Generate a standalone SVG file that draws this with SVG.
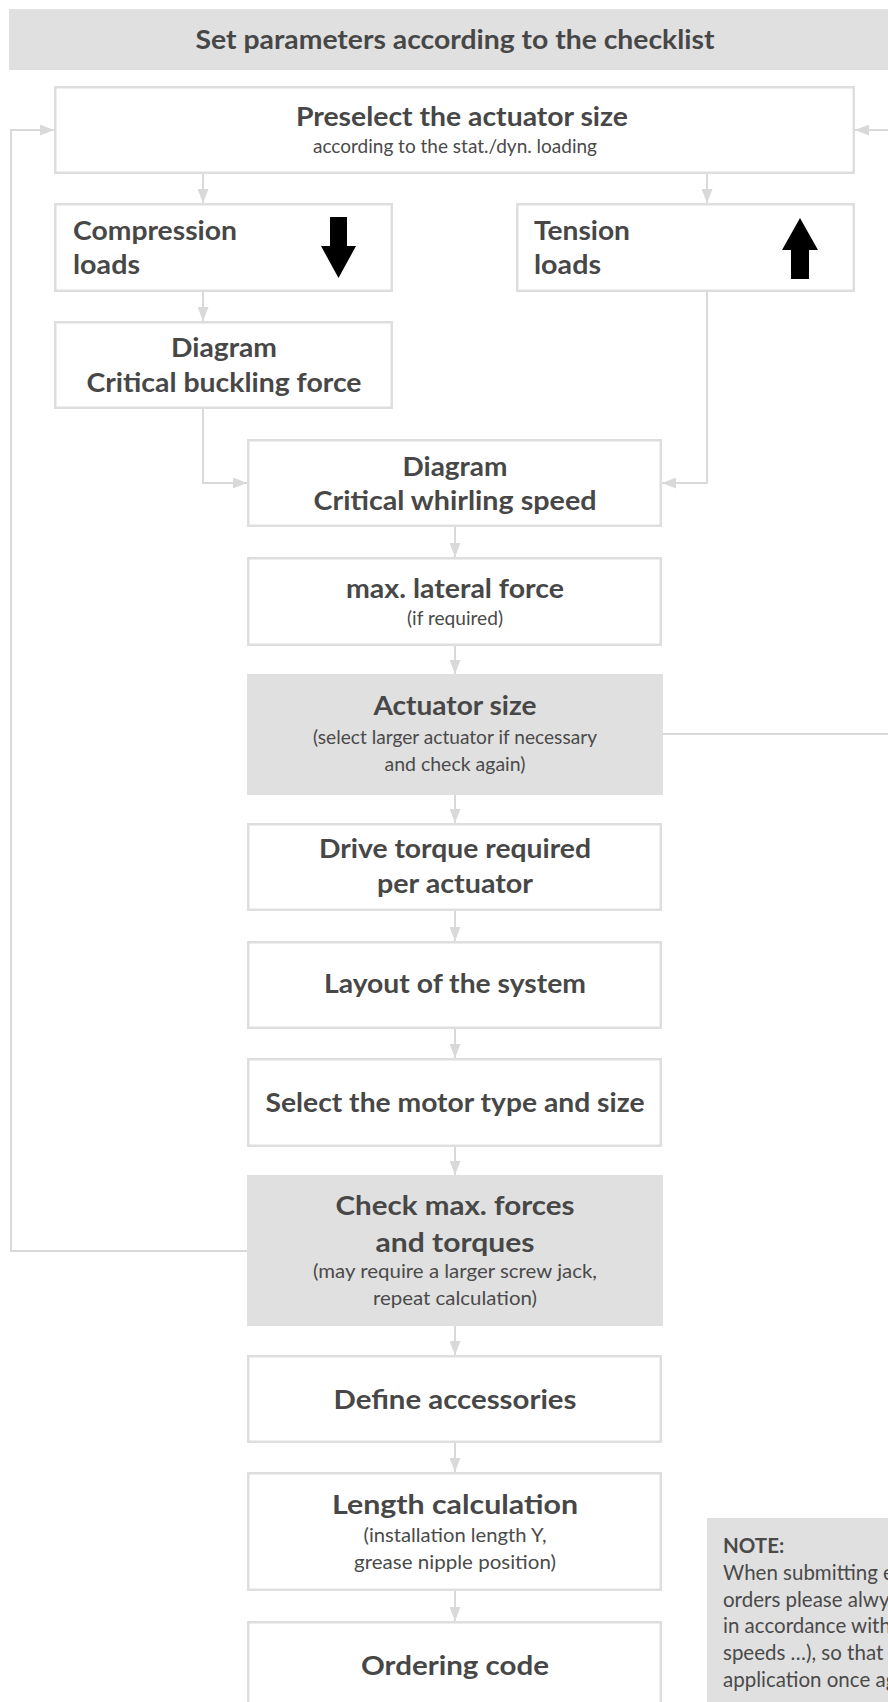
<svg xmlns="http://www.w3.org/2000/svg" width="888" height="1702" viewBox="0 0 888 1702">
<defs>
<style>
.box{fill:#ffffff;stroke:#dedede;stroke-width:2.5}
.gbox{fill:#e0e0e0;stroke:none}
.t{font-family:Lato,"Liberation Sans",sans-serif;font-weight:700;font-size:26.5px;fill:#474747}
.s{font-family:Lato,"Liberation Sans",sans-serif;font-weight:400;font-size:20px;fill:#4a4a4a}
.c{text-anchor:middle}
.n{font-family:Lato,"Liberation Sans",sans-serif;font-size:20.5px;fill:#4a4a4a}
.con{fill:none;stroke:#d9d9d9;stroke-width:2}
.ar{marker-end:url(#ah)}
</style>
<marker id="ah" markerUnits="userSpaceOnUse" markerWidth="14" markerHeight="11" refX="14" refY="5.5" orient="auto">
<path d="M0,0 L14,5.5 L0,11 Z" fill="#d9d9d9"/>
</marker>
</defs>
<rect width="888" height="1702" fill="#ffffff"/>

<g id="header">
<rect class="gbox" x="9" y="9" width="900" height="61"/>
<text class="t c" x="455" y="49" textLength="519" lengthAdjust="spacingAndGlyphs">Set parameters according to the checklist</text>
</g>

<g id="connectors">
<path class="con ar" d="M203,174 V203"/>
<path class="con ar" d="M707,174 V203"/>
<path class="con ar" d="M203,292 V321"/>
<path class="con ar" d="M203,409 V483 H247"/>
<path class="con ar" d="M707,292 V483 H662"/>
<path class="con ar" d="M455,527 V557"/>
<path class="con ar" d="M455,646 V674"/>
<path class="con ar" d="M455,795 V823"/>
<path class="con ar" d="M455,911 V941"/>
<path class="con ar" d="M455,1029 V1058"/>
<path class="con ar" d="M455,1147 V1175"/>
<path class="con ar" d="M455,1326 V1355"/>
<path class="con ar" d="M455,1443 V1472"/>
<path class="con ar" d="M455,1591 V1621"/>
<path class="con ar" d="M247,1251 H11 V130 H54"/>
<path class="con ar" d="M663,734 H910 V130 H855"/>
</g>

<g id="preselect">
<rect class="box" x="55.25" y="87.25" width="798.5" height="85.5"/>
<text class="t c" x="462" y="126" textLength="332" lengthAdjust="spacingAndGlyphs">Preselect the actuator size</text>
<text class="s c" x="455" y="153" textLength="284" lengthAdjust="spacingAndGlyphs">according to the stat./dyn. loading</text>
</g>

<g id="compression">
<rect class="box" x="55.25" y="204.25" width="336.5" height="86.5"/>
<text class="t" x="73" y="240" textLength="164" lengthAdjust="spacingAndGlyphs">Compression</text>
<text class="t" x="73" y="274" textLength="67" lengthAdjust="spacingAndGlyphs">loads</text>
<path d="M330,217 H347 V246 H356 L338.5,278 L321,246 H330 Z" fill="#000000"/>
</g>

<g id="tension">
<rect class="box" x="517.25" y="204.25" width="336.5" height="86.5"/>
<text class="t" x="534" y="240" textLength="96" lengthAdjust="spacingAndGlyphs">Tension</text>
<text class="t" x="534" y="274" textLength="67" lengthAdjust="spacingAndGlyphs">loads</text>
<path d="M800,218 L818,250 H809 V279 H791 V250 H782 Z" fill="#000000"/>
</g>

<g id="buckling">
<rect class="box" x="55.25" y="322.25" width="336.5" height="85.5"/>
<text class="t c" x="224" y="357" textLength="106" lengthAdjust="spacingAndGlyphs">Diagram</text>
<text class="t c" x="224" y="392" textLength="275" lengthAdjust="spacingAndGlyphs">Critical buckling force</text>
</g>

<g id="whirling">
<rect class="box" x="248.25" y="440.25" width="412.5" height="85.5"/>
<text class="t c" x="455" y="476" textLength="105" lengthAdjust="spacingAndGlyphs">Diagram</text>
<text class="t c" x="455" y="510" textLength="283" lengthAdjust="spacingAndGlyphs">Critical whirling speed</text>
</g>

<g id="lateral">
<rect class="box" x="248.25" y="558.25" width="412.5" height="86.5"/>
<text class="t c" x="455" y="598" textLength="218" lengthAdjust="spacingAndGlyphs">max. lateral force</text>
<text class="s c" x="455" y="625" textLength="96" lengthAdjust="spacingAndGlyphs">(if required)</text>
</g>

<g id="actuator">
<rect class="gbox" x="247" y="674" width="416" height="121"/>
<text class="t c" x="455" y="715" textLength="163" lengthAdjust="spacingAndGlyphs">Actuator size</text>
<text class="s c" x="455" y="744" textLength="284" lengthAdjust="spacingAndGlyphs">(select larger actuator if necessary</text>
<text class="s c" x="455" y="771" textLength="141" lengthAdjust="spacingAndGlyphs">and check again)</text>
</g>

<g id="drive">
<rect class="box" x="248.25" y="824.25" width="412.5" height="85.5"/>
<text class="t c" x="455" y="858" textLength="272" lengthAdjust="spacingAndGlyphs">Drive torque required</text>
<text class="t c" x="455" y="893" textLength="156" lengthAdjust="spacingAndGlyphs">per actuator</text>
</g>

<g id="layout">
<rect class="box" x="248.25" y="942.25" width="412.5" height="85.5"/>
<text class="t c" x="455" y="993" textLength="262" lengthAdjust="spacingAndGlyphs">Layout of the system</text>
</g>

<g id="motor">
<rect class="box" x="248.25" y="1059.25" width="412.5" height="86.5"/>
<text class="t c" x="455" y="1112" textLength="379" lengthAdjust="spacingAndGlyphs">Select the motor type and size</text>
</g>

<g id="check">
<rect class="gbox" x="247" y="1175" width="416" height="151"/>
<text class="t c" x="455" y="1215" textLength="239" lengthAdjust="spacingAndGlyphs">Check max. forces</text>
<text class="t c" x="455" y="1252" textLength="159" lengthAdjust="spacingAndGlyphs">and torques</text>
<text class="s c" x="455" y="1278" textLength="284" lengthAdjust="spacingAndGlyphs">(may require a larger screw jack,</text>
<text class="s c" x="455" y="1305" textLength="164" lengthAdjust="spacingAndGlyphs">repeat calculation)</text>
</g>

<g id="accessories">
<rect class="box" x="248.25" y="1356.25" width="412.5" height="85.5"/>
<text class="t c" x="455" y="1409" textLength="243" lengthAdjust="spacingAndGlyphs">Define accessories</text>
</g>

<g id="length">
<rect class="box" x="248.25" y="1473.25" width="412.5" height="116.5"/>
<text class="t c" x="455" y="1514" textLength="246" lengthAdjust="spacingAndGlyphs">Length calculation</text>
<text class="s c" x="455" y="1542" textLength="183" lengthAdjust="spacingAndGlyphs">(installation length Y,</text>
<text class="s c" x="455" y="1569" textLength="202" lengthAdjust="spacingAndGlyphs">grease nipple position)</text>
</g>

<g id="ordering">
<rect class="box" x="248.25" y="1622.25" width="412.5" height="100"/>
<text class="t c" x="455" y="1675" textLength="188" lengthAdjust="spacingAndGlyphs">Ordering code</text>
</g>

<g id="note">
<rect class="gbox" x="707" y="1518" width="200" height="200"/>
<text class="n" x="723" y="1553" font-weight="700">NOTE:</text>
<text class="n" x="723" y="1580">When submitting e</text>
<text class="n" x="723" y="1607">orders please alwy</text>
<text class="n" x="723" y="1633">in accordance with</text>
<text class="n" x="723" y="1660">speeds …), so that</text>
<text class="n" x="723" y="1687">application once ag</text>
</g>
</svg>
